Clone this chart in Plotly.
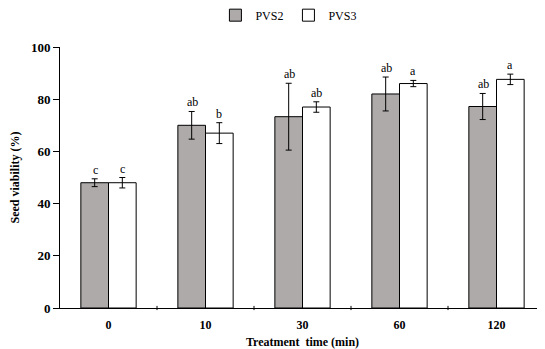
import plotly.graph_objects as go

categories = ["0", "10", "30", "60", "120"]
pvs2 = [48, 70, 73.3, 82, 77.2]
pvs2_err = [1.5, 5.3, 12.8, 6.5, 5]
pvs3 = [48, 67, 77, 86, 87.6]
pvs3_err = [2, 4, 2, 1.2, 2]
pvs2_letters = ["c", "ab", "ab", "ab", "ab"]
pvs3_letters = ["c", "b", "ab", "a", "a"]

fig = go.Figure()
fig.add_trace(go.Bar(
    x=categories, y=pvs2, name="PVS2",
    marker=dict(color="#aeaaaa", line=dict(color="black", width=1)),
    error_y=dict(type="data", array=pvs2_err, color="black", thickness=1, width=3),
))
fig.add_trace(go.Bar(
    x=categories, y=pvs3, name="PVS3",
    marker=dict(color="white", line=dict(color="black", width=1)),
    error_y=dict(type="data", array=pvs3_err, color="black", thickness=1, width=3),
))

for i, c in enumerate(categories):
    fig.add_annotation(x=i, y=pvs2[i] + pvs2_err[i], text=pvs2_letters[i], xref="x", yref="y",
                       xshift=-13.5, yshift=9, showarrow=False,
                       font=dict(family="Liberation Serif", size=12, color="black"))
    fig.add_annotation(x=i, y=pvs3[i] + pvs3_err[i], text=pvs3_letters[i], xref="x", yref="y",
                       xshift=13.5, yshift=9, showarrow=False,
                       font=dict(family="Liberation Serif", size=12, color="black"))

fig.update_layout(
    width=537, height=341,
    margin=dict(l=52, r=0, t=39, b=41, autoexpand=False),
    paper_bgcolor="white", plot_bgcolor="white",
    barmode="group", bargap=0.43, bargroupgap=0,
    showlegend=True,
    legend=dict(orientation="h", x=0.472, xanchor="center", yref="container", y=0.979, yanchor="middle",
                font=dict(family="Liberation Serif", size=12, color="black"),
                itemwidth=30, tracegroupgap=0),
    font=dict(family="Liberation Serif", color="black"),
)
fig.update_xaxes(
    type="category", range=[-0.5, len(categories) - 0.5], automargin=False,
    showline=True, linecolor="black", linewidth=1,
    ticks="", showgrid=False, ticklabelstandoff=6,
    tickfont=dict(family="Liberation Serif", size=12, color="black", weight="bold"),
    title=dict(text="Treatment  time (min)", standoff=8,
               font=dict(family="Liberation Serif", size=12, color="black", weight="bold")),
)
fig.update_yaxes(
    range=[0, 100], tickvals=[0, 20, 40, 60, 80, 100], automargin=False,
    showline=True, linecolor="black", linewidth=1,
    ticks="outside", ticklen=6, tickcolor="black",
    showgrid=False, zeroline=False,
    tickfont=dict(family="Liberation Serif", size=13, color="black", weight="bold"),
    title=dict(text="Seed viability (%)", standoff=9,
               font=dict(family="Liberation Serif", size=12, color="black", weight="bold")),
)

# category separator ticks on x axis
for k in range(1, len(categories)):
    fig.add_shape(type="line", xref="x", yref="paper", x0=k - 0.5, x1=k - 0.5, y0=0.008, y1=-0.008,
                  line=dict(color="black", width=1))

fig.write_html("out.html")
